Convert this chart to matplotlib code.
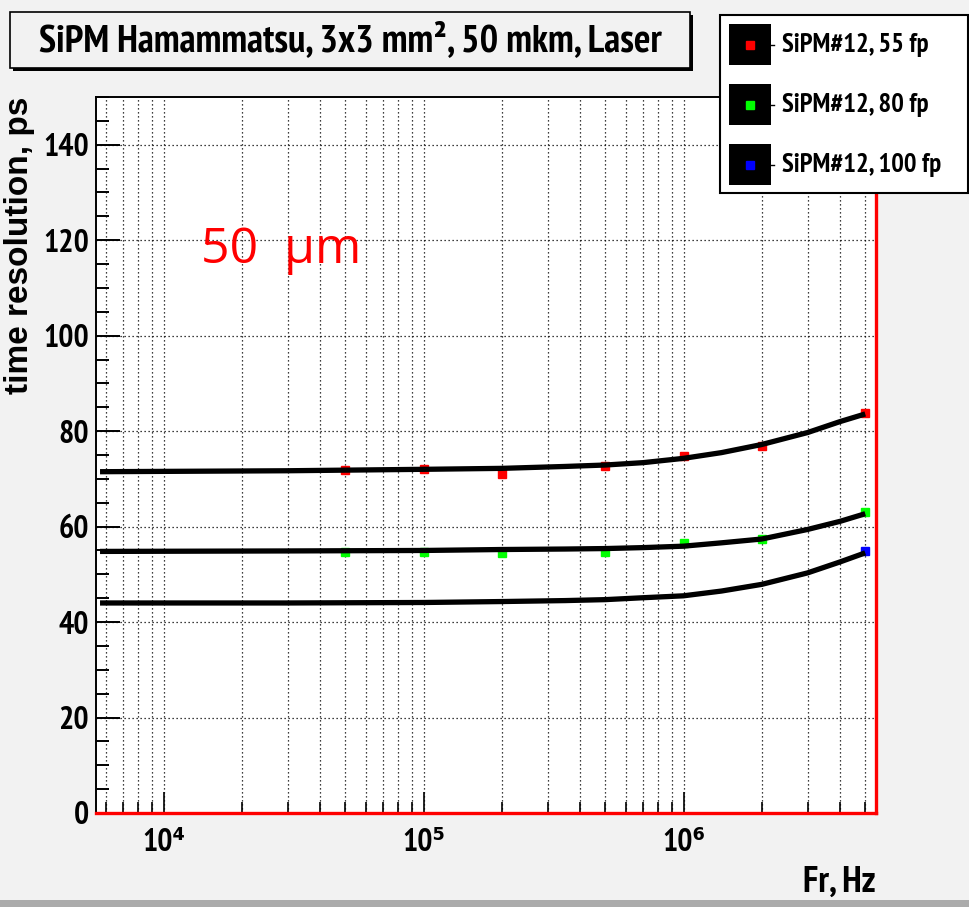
import numpy as np

import matplotlib
matplotlib.use('Agg')
import matplotlib.pyplot as plt
from matplotlib.patches import Rectangle
from matplotlib.lines import Line2D
from matplotlib.ticker import LogLocator, MultipleLocator, FixedLocator, NullFormatter
from matplotlib import font_manager

"""
Time resolution vs laser repetition rate, three SiPM bias points
"""

# measured points: frequency in Hz, resolution in ps
freq = [5e4, 1e5, 2e5, 5e5, 1e6, 2e6, 5e6]
res_55fp = [71.8, 72.0, 71.1, 72.7, 74.8, 76.9, 83.9]
res_80fp = [54.6, 54.6, 54.4, 54.6, 56.6, 57.3, 63.1]
freq_100fp = [5e6]
res_100fp = [54.8]

# fit curves, sampled along the frequency axis
fit_freq = [5.7e3, 3e4, 1e5, 2e5, 3.5e5, 5e5, 7e5, 1e6, 1.4e6, 2e6, 3e6, 4e6, 5e6]
fit_55fp = [71.5, 71.7, 72.0, 72.2, 72.6, 72.9, 73.4, 74.3, 75.5, 77.2, 79.7, 82.0, 83.6]
fit_80fp = [54.8, 54.9, 55.0, 55.2, 55.3, 55.4, 55.6, 55.9, 56.6, 57.4, 59.4, 61.1, 62.7]
fit_100fp = [44.0, 44.0, 44.1, 44.3, 44.5, 44.7, 45.1, 45.5, 46.5, 47.9, 50.3, 52.6, 54.5]

labels = ['SiPM#12, 55 fp', 'SiPM#12, 80 fp', 'SiPM#12, 100 fp']
colors = ['#ff0000', '#00ff00', '#0000ff']
xticks = [1e4, 1e5, 1e6]
xticklabels = ['10⁴', '10⁵', '10⁶']
yticks = [0, 20, 40, 60, 80, 100, 120, 140]
title = 'SiPM Hamammatsu, 3x3 mm², 50 mkm, Laser'

W, H = 969, 907
BG = '#f2f2f2'


def pick_narrow():
    # a condensed bold face if one is installed, plain bold otherwise
    found = []
    for f in font_manager.fontManager.ttflist:
        fn = f.fname.lower()
        if 'bold' not in fn or 'oblique' in fn or 'italic' in fn:
            continue
        if 'narrow' in f.name.lower() or 'condensed' in f.name.lower() or 'condensed' in str(f.stretch):
            found.append((0 if 'narrow' in f.name.lower() else 1, f.name, f.stretch))
    if found:
        found.sort()
        return dict(family=[found[0][1], 'DejaVu Sans'], stretch=found[0][2], weight='bold')
    return dict(family=['Liberation Sans', 'DejaVu Sans'], weight='bold')


BOLD = pick_narrow()


def px(x, y):
    # pixel position (from top-left) -> figure fraction
    return x / W, 1 - y / H


def fit_width(fig, txt, target):
    # rescale the font so the rendered text is `target` pixels wide
    r = fig.canvas.get_renderer()
    w = txt.get_window_extent(r).width
    txt.set_fontsize(txt.get_fontsize() * target / w)


def add_box(fig, x0, y0, x1, y1, face, shadow=0, lw=1.2):
    if shadow:
        fig.patches.append(Rectangle(px(x0 + shadow, y1 + shadow), (x1 - x0) / W, (y1 - y0) / H,
                                     transform=fig.transFigure, facecolor='black',
                                     edgecolor='none', zorder=1))
    fig.patches.append(Rectangle(px(x0, y1), (x1 - x0) / W, (y1 - y0) / H,
                                 transform=fig.transFigure, facecolor=face,
                                 edgecolor='black', lw=lw, zorder=2))


def plot_chart():
    fig = plt.figure(figsize=(W / 100, H / 100), dpi=100, facecolor=BG)
    x0, y0 = px(96, 813)
    ax = fig.add_axes([x0, y0, (876 - 96) / W, (813 - 97) / H])
    ax.set_facecolor('white')

    ax.set_xscale('log')
    ax.set_xlim(5.5e3, 5.5e6)
    ax.set_ylim(0, 150)

    # dotted grid on every x tick, major y ticks only
    dots = (0, (1.0, 2.2))
    for f in LogLocator(base=10, subs=np.arange(1, 10)).tick_values(5.5e3, 5.5e6):
        if 5.5e3 < f < 5.5e6:
            ax.axvline(f, color='black', lw=0.9, ls=dots, zorder=1)
    for v in yticks[1:]:
        ax.axhline(v, color='black', lw=0.9, ls=dots, zorder=1)

    series = [(freq, res_55fp, fit_55fp), (freq, res_80fp, fit_80fp),
              (freq_100fp, res_100fp, fit_100fp)]
    for (fx, fy, fit), col in zip(series, colors):
        ax.plot(fx, fy, ls='none', marker='s', ms=6, mfc=col, mec=col, zorder=3)
        ax.plot(fit_freq, fit, color='black', lw=3.8, solid_capstyle='butt', zorder=4)

    ax.xaxis.set_major_locator(FixedLocator(xticks))
    ax.set_xticklabels(xticklabels)
    ax.xaxis.set_minor_locator(LogLocator(base=10, subs=np.arange(2, 10)))
    ax.xaxis.set_minor_formatter(NullFormatter())
    ax.yaxis.set_major_locator(FixedLocator(yticks))
    ax.yaxis.set_minor_locator(MultipleLocator(5))

    ax.tick_params(which='both', direction='in', top=False, right=False, color='black')
    ax.tick_params(axis='y', which='major', length=17, width=1.4, pad=5)
    ax.tick_params(axis='y', which='minor', length=9, width=1.4)
    ax.tick_params(axis='x', which='major', length=15, width=1.2, pad=11)
    ax.tick_params(axis='x', which='minor', length=8, width=1.2)
    for lab in ax.get_yticklabels():
        lab.set(**BOLD)
        lab.set_fontsize(23)
    for lab in ax.get_xticklabels():
        lab.set(**BOLD)
        lab.set_fontsize(23)

    for s in ('left', 'top'):
        ax.spines[s].set_color('black')
        ax.spines[s].set_linewidth(1.4)
    for s in ('bottom', 'right'):
        ax.spines[s].set_color('red')
        ax.spines[s].set_linewidth(2.4)

    # axis titles placed at the axis ends
    xt = fig.text(*px(876, 892), 'Fr, Hz', ha='right', va='baseline', fontsize=22, **BOLD)
    fig.text(*px(20, 97), 'time resolution, ps', ha='center', va='top', rotation=90,
             fontsize=24, fontweight='bold', family='Liberation Sans')

    ax.text(0.135, 0.768, '50  µm', transform=ax.transAxes, color='red', fontsize=36,
            family='Open Sans', ha='left', va='baseline')

    # title pave
    add_box(fig, 10, 12, 690, 68, BG, shadow=3)
    tt = fig.text(*px(350, 41), title, ha='center', va='center', fontsize=26, zorder=3, **BOLD)

    # legend pave
    add_box(fig, 720, 15, 968, 193, 'white', lw=1.5)
    leg_txt = []
    for i, (lab, col) in enumerate(zip(labels, colors)):
        cy = 45 + 60 * i
        fig.patches.append(Rectangle(px(729, cy + 20), 42 / W, 41 / H, transform=fig.transFigure,
                                     facecolor='black', edgecolor='none', zorder=3))
        fig.lines.append(Line2D([771 / W, 774 / W], [1 - cy / H] * 2, transform=fig.transFigure,
                                color='black', lw=1, zorder=3))
        fig.lines.append(Line2D([750 / W], [1 - cy / H], transform=fig.transFigure, ls='none',
                                marker='s', ms=6, mfc=col, mec=col, zorder=4))
        leg_txt.append(fig.text(*px(782, cy), lab, ha='left', va='center', fontsize=18,
                                zorder=4, **BOLD))

    # window edge at the bottom
    fig.patches.append(Rectangle((0, 0), 1, 7 / H, transform=fig.transFigure,
                                 facecolor='#ababab', edgecolor='none', zorder=0))

    # size the condensed-looking texts by their widths
    fig.canvas.draw()
    fit_width(fig, tt, 622)
    fit_width(fig, xt, 72)
    fit_width(fig, leg_txt[2], 160)
    for t in leg_txt[:2]:
        t.set_fontsize(leg_txt[2].get_fontsize())

    fig.savefig('out.png', dpi=100, facecolor=BG)
    plt.close(fig)


plot_chart()
